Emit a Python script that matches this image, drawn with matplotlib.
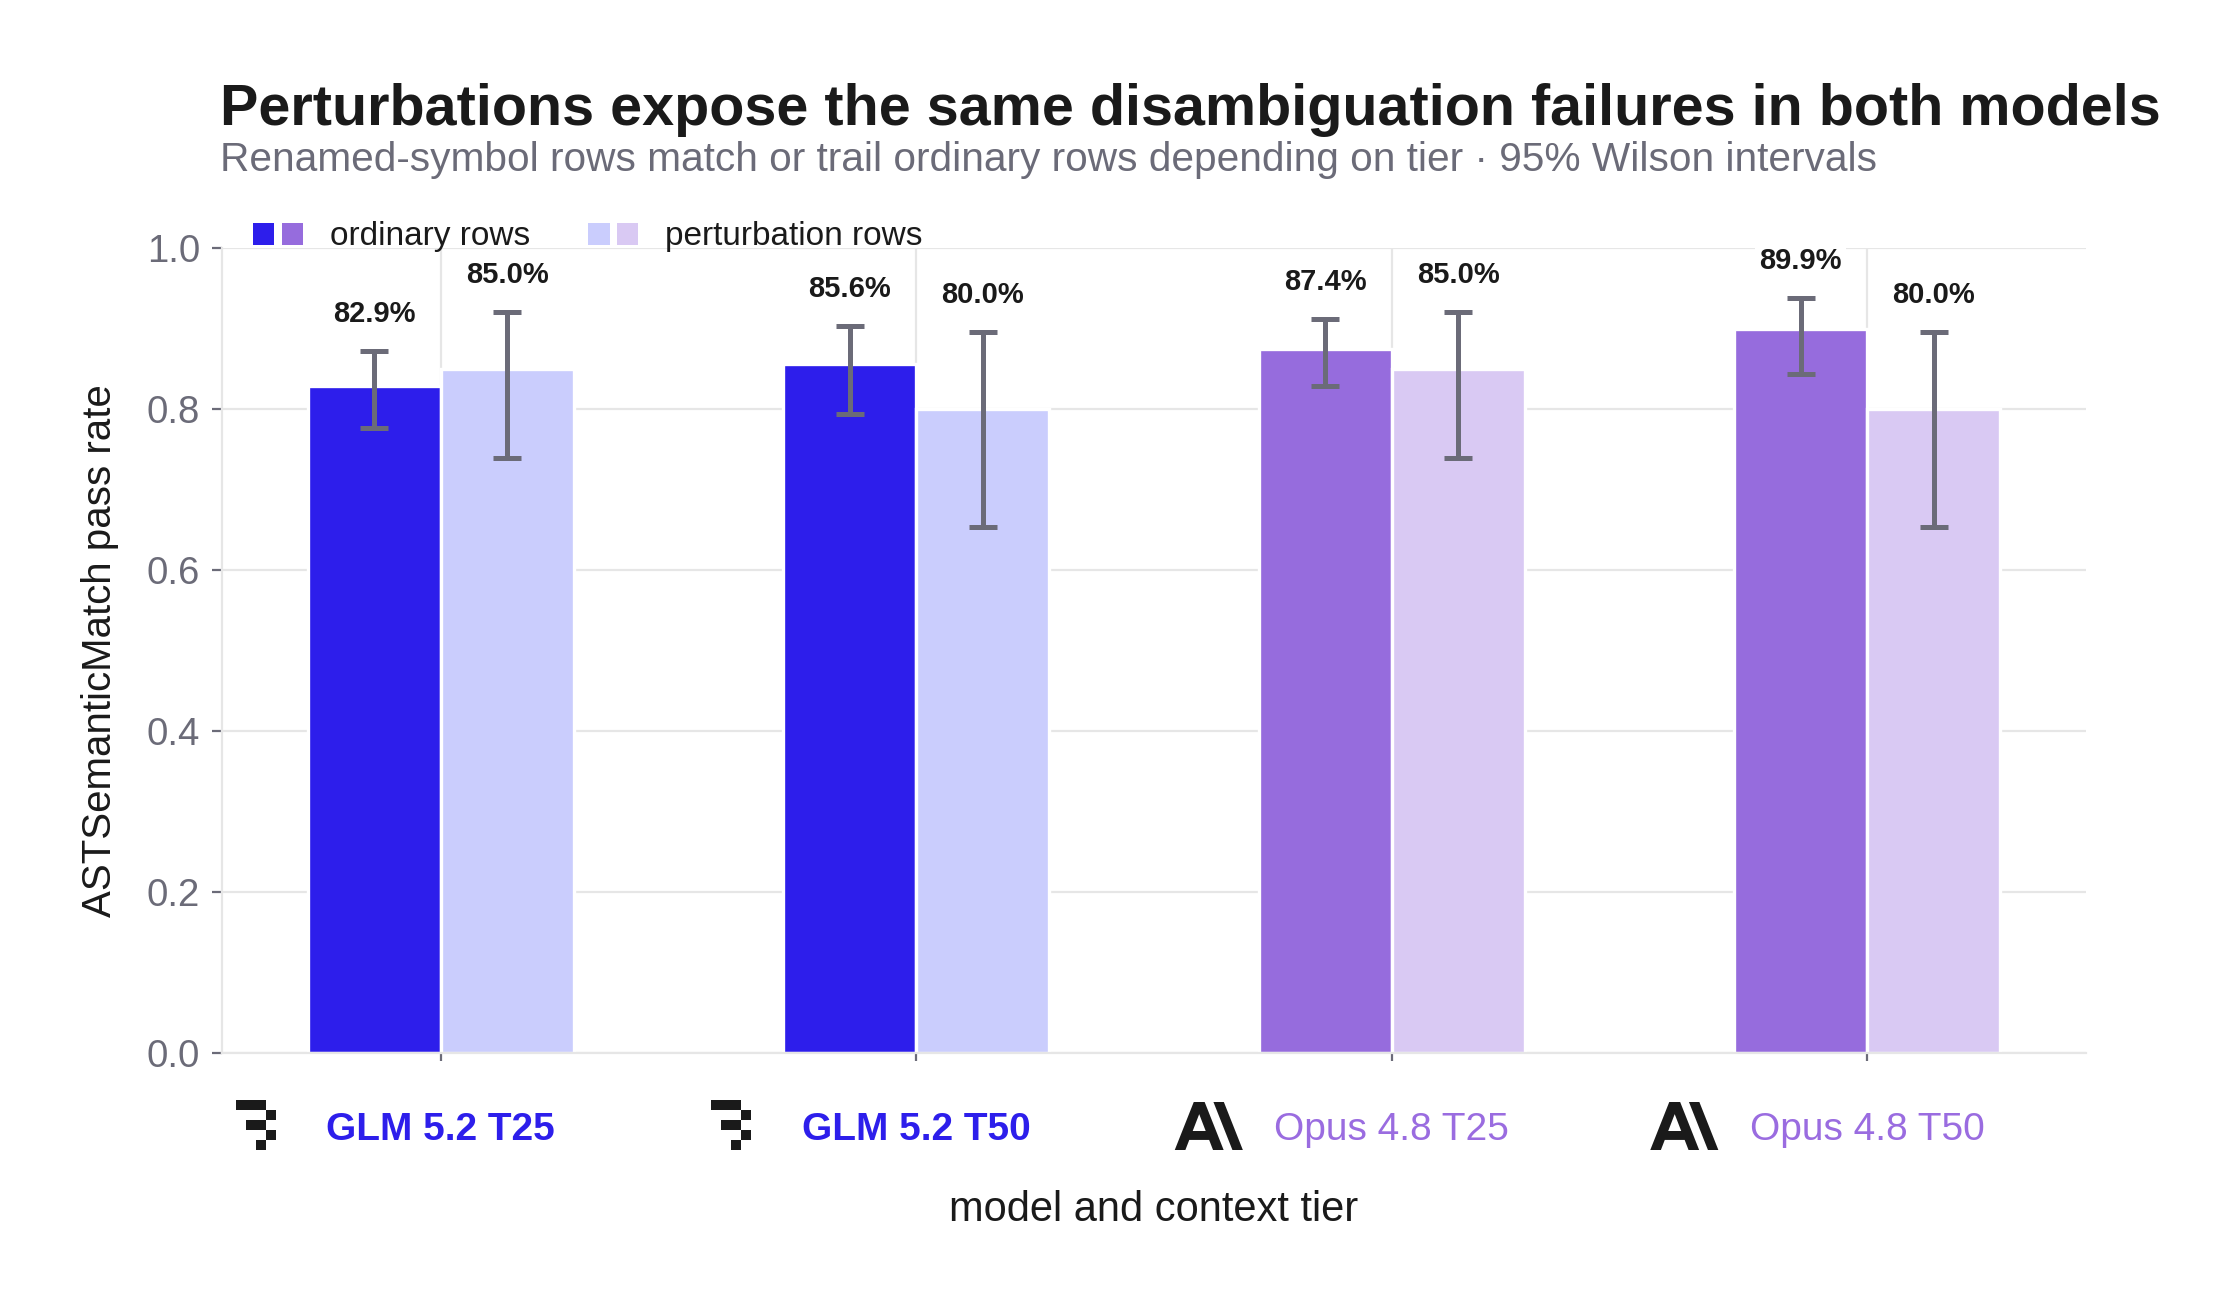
import matplotlib
matplotlib.use("Agg")
import matplotlib.pyplot as plt
import numpy as np
from matplotlib.patches import Patch, Rectangle, PathPatch
from matplotlib.path import Path
from matplotlib.legend_handler import HandlerTuple
import matplotlib.transforms as mtrans

plt.rcParams['font.family'] = ['Liberation Sans', 'DejaVu Sans']

# ---------------- data ----------------
categories = ["GLM 5.2 T25", "GLM 5.2 T50", "Opus 4.8 T25", "Opus 4.8 T50"]
families = ["glm", "glm", "opus", "opus"]
ordinary_rate = [0.829, 0.856, 0.874, 0.899]
ordinary_lo = [0.777, 0.794, 0.828, 0.843]
ordinary_hi = [0.872, 0.903, 0.912, 0.938]
perturb_rate = [0.850, 0.800, 0.850, 0.800]
perturb_lo = [0.739, 0.654, 0.739, 0.654]
perturb_hi = [0.920, 0.896, 0.920, 0.896]
y_ticks = [0.0, 0.2, 0.4, 0.6, 0.8, 1.0]
legend_labels = ["ordinary rows", "perturbation rows"]

title = "Perturbations expose the same disambiguation failures in both models"
subtitle = "Renamed-symbol rows match or trail ordinary rows depending on tier \u00b7 95% Wilson intervals"

# ---------------- style ----------------
ORD = {"glm": "#2D1EEB", "opus": "#966CDD"}
PERT = {"glm": "#CACDFD", "opus": "#D9C9F3"}
LABEL_COL = {"glm": "#2D1EEB", "opus": "#9A6CE0"}
GRAY = "#6B6B78"
GRID = "#E6E6E6"
INK = "#1A1A1A"

W, H, DPI = 2228, 1294, 200
fig = plt.figure(figsize=(W / DPI, H / DPI), dpi=DPI)
ax = fig.add_axes([222 / W, 1 - 1053 / H, (2086 - 222) / W, (1053 - 248) / H])

x = np.arange(len(categories))
bw = 0.28
off = 0.14

ord_cols = [ORD[f] for f in families]
pert_cols = [PERT[f] for f in families]

ax.bar(x - off, ordinary_rate, width=bw, color=ord_cols, edgecolor="white", linewidth=1.2, zorder=2)
ax.bar(x + off, perturb_rate, width=bw, color=pert_cols, edgecolor="white", linewidth=1.2, zorder=2)

ord_err = [np.array(ordinary_rate) - np.array(ordinary_lo), np.array(ordinary_hi) - np.array(ordinary_rate)]
pert_err = [np.array(perturb_rate) - np.array(perturb_lo), np.array(perturb_hi) - np.array(perturb_rate)]
ek = dict(fmt="none", ecolor=GRAY, elinewidth=1.8, capsize=5, capthick=1.8, zorder=3)
ax.errorbar(x - off, ordinary_rate, yerr=ord_err, **ek)
ax.errorbar(x + off, perturb_rate, yerr=pert_err, **ek)

for xs, his, vals in [(x - off, ordinary_hi, ordinary_rate), (x + off, perturb_hi, perturb_rate)]:
    for xi, hi, v in zip(xs, his, vals):
        ax.annotate(f"{v*100:.1f}%", (xi, hi), xytext=(0, 13.3), textcoords="offset points",
                    ha="center", va="center", fontsize=10.5, fontweight="bold", color=INK, zorder=5,
                    bbox=dict(facecolor="white", edgecolor="none", pad=1.5))

ax.set_xlim(-0.46, 3.46)
ax.set_ylim(0, 1.0)
ax.set_yticks(y_ticks)
ax.set_yticklabels([f"{t:.1f}" for t in y_ticks])
ax.set_xticks(x)
ax.set_xticklabels(categories)

ax.tick_params(axis="x", colors=GRAY, length=2.9, width=0.8, pad=18.5)
ax.tick_params(axis="y", colors=GRAY, labelcolor=GRAY, length=3.6, width=0.8, pad=4.3, labelsize=13.8)
for lab, fam in zip(ax.get_xticklabels(), families):
    lab.set_color(LABEL_COL[fam])
    lab.set_fontweight("bold" if fam == "glm" else "normal")
    lab.set_fontsize(14)

ax.grid(True, color=GRID, linewidth=0.8, zorder=0)
ax.set_axisbelow(True)
for s in ["top", "right"]:
    ax.spines[s].set_visible(False)
for s in ["left", "bottom"]:
    ax.spines[s].set_color(GRID)
    ax.spines[s].set_linewidth(0.8)

ax.set_ylabel("ASTSemanticMatch pass rate", fontsize=14.5, color=INK, labelpad=10)
ax.set_xlabel("model and context tier", fontsize=15, color=INK, labelpad=15)

# legend
h1 = (Patch(facecolor=ORD["glm"]), Patch(facecolor=ORD["opus"]))
h2 = (Patch(facecolor=PERT["glm"]), Patch(facecolor=PERT["opus"]))
leg = fig.legend([h1, h2], legend_labels, handler_map={tuple: HandlerTuple(ndivide=None, pad=0.22)},
                 loc="center left", bbox_to_anchor=(253 / W, 1 - 237 / H), frameon=False,
                 fontsize=12, handlelength=1.5, handleheight=0.64, handletextpad=0.8,
                 columnspacing=1.75, ncol=2, borderpad=0, borderaxespad=0, labelcolor=INK)

# title & subtitle
t1 = fig.text(220 / W, 1 - 125 / H, title, fontsize=19, fontweight="bold", color=INK, va="baseline", ha="left")
t2 = fig.text(220 / W, 1 - 171 / H, subtitle, fontsize=13, color=GRAY, va="baseline", ha="left")
fig.canvas.draw()
r = fig.canvas.get_renderer()
for t, target in [(t1, 1938), (t2, 1656)]:
    w = t.get_window_extent(r).width
    t.set_fontsize(t.get_fontsize() * target / w)

# icons next to x tick labels (positioned from tick positions)
blend = mtrans.blended_transform_factory(ax.transData, ax.transAxes)
ident = mtrans.IdentityTransform()

glm_blocks = [(0, 0, 3), (1, 3, 1), (2, 1, 2), (3, 3, 1), (4, 2, 1)]  # row, first col, n cols

A_outer = [(12.665, 0), (0, 32), (7.082, 32), (9.672, 25.28), (22.922, 25.28), (25.512, 32),
           (32.594, 32), (19.929, 0)]
A_hole = [(11.963, 19.337), (16.297, 8.091), (20.631, 19.337)]
A_slash = [(25.785, 0), (38.45, 32), (45.395, 32), (32.73, 0)]


def poly(pts):
    v = list(pts) + [pts[0]]
    c = [Path.MOVETO] + [Path.LINETO] * (len(pts) - 1) + [Path.CLOSEPOLY]
    return v, c


verts, codes = [], []
for p in (A_outer, A_hole, A_slash):
    v, c = poly(p)
    verts += v
    codes += c
anth_path = Path(verts, codes)

for xi, fam in zip(x, families):
    px, py = blend.transform((xi, 0))
    if fam == "glm":
        bs = 10.0
        left = px - 205
        top = py - 47
        for row, c0, n in glm_blocks:
            rect = Rectangle((left + c0 * bs, top - (row + 1) * bs), n * bs, bs,
                             facecolor=INK, edgecolor="none", transform=ident)
            fig.add_artist(rect)
    else:
        s = 1.5
        left = px - 217
        top = py - 49
        tr = mtrans.Affine2D().scale(s, -s).translate(left, top)
        fig.add_artist(PathPatch(anth_path, facecolor=INK, edgecolor="none", transform=tr))

fig.savefig("out.png", dpi=DPI, facecolor="white")
